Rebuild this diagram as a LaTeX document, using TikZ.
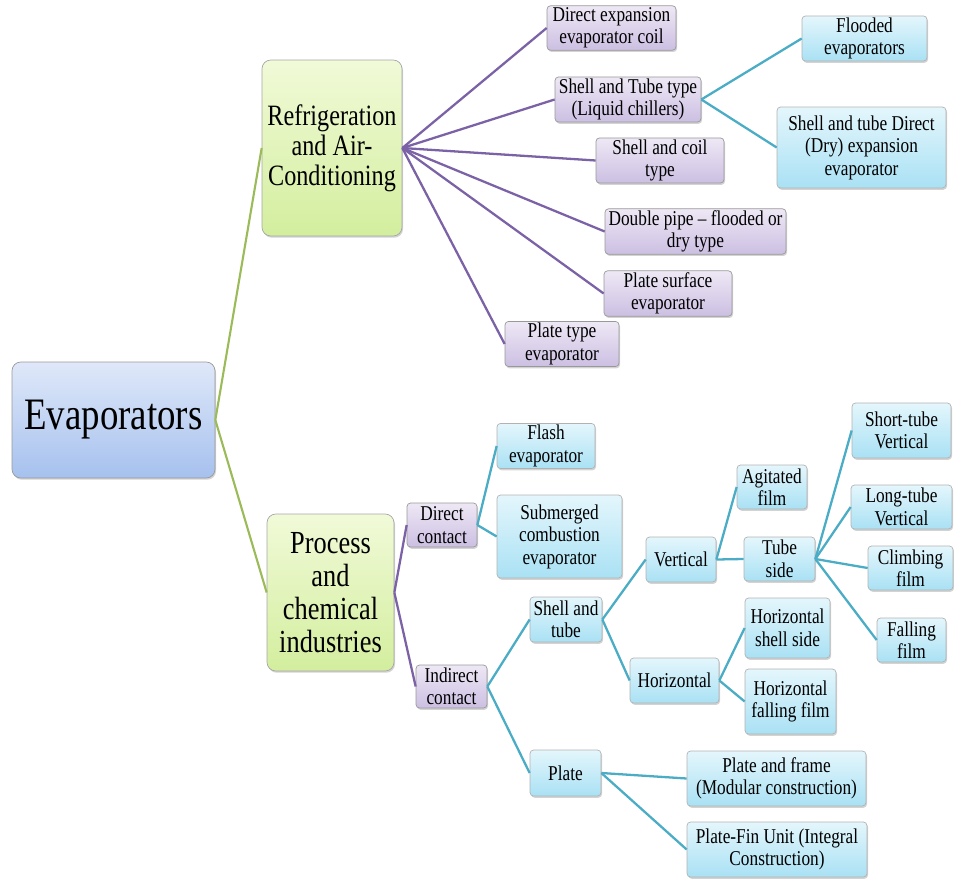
\documentclass[tikz,border=0pt]{standalone}
\usepackage{fontspec}
\setmainfont{Liberation Serif}[FakeStretch=0.82]
\usetikzlibrary{shadows}

\definecolor{greenline}{HTML}{9BBB59}
\definecolor{purpleline}{HTML}{7B62A6}
\definecolor{aqualine}{HTML}{4BACC6}
\definecolor{rootTop}{HTML}{DFE8F9}
\definecolor{rootBot}{HTML}{A6C1EE}
\definecolor{grnTop}{HTML}{F1FAD8}
\definecolor{grnBot}{HTML}{D3EE9E}
\definecolor{purTop}{HTML}{EEE8F5}
\definecolor{purBot}{HTML}{CCBFE2}
\definecolor{aquTop}{HTML}{E4F6FC}
\definecolor{aquBot}{HTML}{A9E1F4}

\tikzset{
  box/.style={draw, align=center, inner sep=1pt, text=black,
    drop shadow={opacity=0.35, shadow xshift=0.6pt, shadow yshift=-1pt}},
  rootbox/.style={box, draw=black!40, rounded corners=5pt,
    top color=rootTop, bottom color=rootBot,
    font=\fontsize{25.6}{28}\selectfont},
  greenbox/.style={box, draw=black!35, rounded corners=5pt,
    top color=grnTop, bottom color=grnBot},
  purplebox/.style={box, draw=black!40, rounded corners=2pt,
    top color=purTop, bottom color=purBot,
    font=\fontsize{12}{12.8}\selectfont},
  aquabox/.style={box, draw=black!30, rounded corners=2pt,
    top color=aquTop, bottom color=aquBot,
    font=\fontsize{12}{12.8}\selectfont},
  grnlink/.style={greenline, line width=1.2pt},
  purlink/.style={purpleline, line width=1.3pt},
  aqualink/.style={aqualine, line width=1.3pt}
}

\begin{document}
\begin{tikzpicture}[x=0.02cm, y=-0.02cm]
\useasboundingbox (0,0) rectangle (954,879);

% root and main branches
\node[rootbox, minimum width=4.06cm, minimum height=2.32cm] (evap) at (113.5,420) {Evaporators};
\node[greenbox, minimum width=2.8cm, minimum height=3.52cm, font=\fontsize{16.8}{17}\selectfont] (refr) at (332,148) {Refrigeration\\and Air-\\Conditioning};
\node[greenbox, minimum width=2.54cm, minimum height=3.14cm, font=\fontsize{18.3}{18.7}\selectfont] (proc) at (330.5,592.5) {Process\\and\\chemical\\industries};

% refrigeration and air-conditioning
\node[purplebox, minimum width=2.58cm, minimum height=0.88cm] (dxcoil) at (611.5,28) {Direct expansion\\evaporator coil};
\node[purplebox, minimum width=2.92cm, minimum height=0.9cm] (stt) at (628,99.5) {Shell and Tube type\\(Liquid chillers)};
\node[purplebox, minimum width=2.56cm, minimum height=0.86cm] (scoil) at (660,160.5) {Shell and coil\\type};
\node[purplebox, minimum width=3.62cm, minimum height=0.9cm] (dpipe) at (695.5,231.5) {Double pipe – flooded or\\dry type};
\node[purplebox, minimum width=2.56cm, minimum height=0.86cm] (psurf) at (668,293.5) {Plate surface\\evaporator};
\node[purplebox, minimum width=2.28cm, minimum height=0.88cm] (ptype) at (562,344) {Plate type\\evaporator};
\node[aquabox, minimum width=2.5cm, minimum height=0.9cm] (flooded) at (864.5,38.5) {Flooded\\evaporators};
\node[aquabox, minimum width=3.38cm, minimum height=1.62cm] (dryexp) at (861.5,147.5) {Shell and tube Direct\\(Dry) expansion\\evaporator};

% process and chemical industries
\node[purplebox, minimum width=1.4cm, minimum height=0.88cm] (direct) at (442,525) {Direct\\contact};
\node[purplebox, minimum width=1.42cm, minimum height=0.86cm] (indirect) at (451.5,686.5) {Indirect\\contact};
\node[aquabox, minimum width=1.96cm, minimum height=0.88cm] (flash) at (546,446) {Flash\\evaporator};
\node[aquabox, minimum width=2.5cm, minimum height=1.66cm] (subm) at (559.5,536.5) {Submerged\\combustion\\evaporator};
\node[aquabox, minimum width=1.44cm, minimum height=0.9cm] (shtube) at (566,619.5) {Shell and\\tube};
\node[aquabox, minimum width=1.42cm, minimum height=0.92cm] (plate) at (565.5,773) {Plate};
\node[aquabox, minimum width=1.4cm, minimum height=0.9cm] (vert) at (681,559.5) {Vertical};
\node[aquabox, minimum width=1.78cm, minimum height=0.9cm] (horiz) at (674.5,680.5) {Horizontal};
\node[aquabox, minimum width=1.4cm, minimum height=0.88cm] (agit) at (772,487) {Agitated\\film};
\node[aquabox, minimum width=1.42cm, minimum height=0.88cm] (tubeside) at (779.5,559) {Tube\\side};
\node[aquabox, minimum width=1.7cm, minimum height=1.2cm] (hshell) at (787.5,628) {Horizontal\\shell side};
\node[aquabox, minimum width=1.82cm, minimum height=1.3cm] (hfall) at (790.5,701.5) {Horizontal\\falling film};
\node[aquabox, minimum width=1.98cm, minimum height=1.1cm] (shortv) at (901.5,430.5) {Short-tube\\Vertical};
\node[aquabox, minimum width=2.02cm, minimum height=0.88cm] (longv) at (901.5,507) {Long-tube\\Vertical};
\node[aquabox, minimum width=1.7cm, minimum height=0.88cm] (climb) at (910.5,568) {Climbing\\film};
\node[aquabox, minimum width=1.38cm, minimum height=0.88cm] (falling) at (911.5,640) {Falling\\film};
\node[aquabox, minimum width=3.58cm, minimum height=1.1cm] (pframe) at (776.5,778.5) {Plate and frame\\(Modular construction)};
\node[aquabox, minimum width=3.6cm, minimum height=1.1cm] (pfin) at (777,849.5) {Plate-Fin Unit (Integral\\Construction)};

% links
\foreach \c in {refr,proc} \draw[grnlink] (evap.east) -- (\c.west);
\foreach \c in {dxcoil,stt,scoil,dpipe,psurf,ptype} \draw[purlink] (refr.east) -- (\c.west);
\foreach \c in {direct,indirect} \draw[purlink] (proc.east) -- (\c.west);
\foreach \c in {flooded,dryexp} \draw[aqualink] (stt.east) -- (\c.west);
\foreach \c in {flash,subm} \draw[aqualink] (direct.east) -- (\c.west);
\foreach \c in {shtube,plate} \draw[aqualink] (indirect.east) -- (\c.west);
\foreach \c in {vert,horiz} \draw[aqualink] (shtube.east) -- (\c.west);
\foreach \c in {agit,tubeside} \draw[aqualink] (vert.east) -- (\c.west);
\foreach \c in {hshell,hfall} \draw[aqualink] (horiz.east) -- (\c.west);
\foreach \c in {shortv,longv,climb,falling} \draw[aqualink] (tubeside.east) -- (\c.west);
\foreach \c in {pframe,pfin} \draw[aqualink] (plate.east) -- (\c.west);
\end{tikzpicture}
\end{document}
